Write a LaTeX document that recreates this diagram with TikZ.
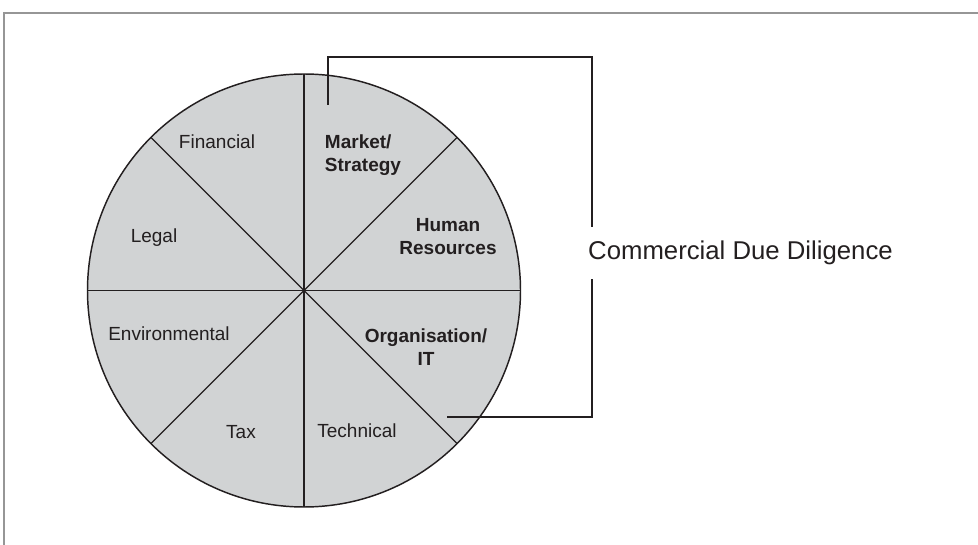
\documentclass[tikz,border=0pt]{standalone}
\usepackage{fontspec}
\setmainfont{Liberation Sans}
\usepackage{tikz}

\definecolor{pieGray}{RGB}{209,211,212}
\definecolor{inkBlack}{RGB}{35,31,32}
\definecolor{frameGray}{RGB}{150,150,150}

\begin{document}
\begin{tikzpicture}[x=0.75pt,y=0.75pt,yscale=-1,xscale=1,
  seclabel/.style={inner sep=0.75pt,text=inkBlack,font=\fontsize{14.25}{17.25}\selectfont},
  secbold/.style={seclabel,font=\fontsize{14.25}{17.25}\selectfont\bfseries},
  bracket/.style={draw=inkBlack,line width=1.1pt}]
\useasboundingbox (0,0) rectangle (978,545);

%Frame
\draw [frameGray,line width=0.8pt]  (4,545) -- (4,13) -- (978,13) ;

%Pie [id:pie]
\node [circle,draw=inkBlack,fill=pieGray,line width=1.1pt,outer sep=0pt,inner sep=0pt,minimum size=324.75pt] (pie) at (304,290.5) {};
%Straight Lines [id:sectors]
\draw [inkBlack,line width=1pt]  (pie.north) -- (pie.south) ;
\draw [inkBlack,line width=1pt]  (pie.west) -- (pie.east) ;
\draw [inkBlack,line width=1pt]  (pie.north west) -- (pie.south east) ;
\draw [inkBlack,line width=1pt]  (pie.north east) -- (pie.south west) ;

% Text Node
\node [seclabel] (fin) at (217,142) {Financial};
% Text Node
\node [seclabel] (legal) at (154,238) {Legal};
% Text Node
\node [seclabel] (env) at (169,334) {Environmental};
% Text Node
\node [seclabel] (tax) at (241,432) {Tax};
% Text Node
\node [seclabel] (tech) at (357,431) {Technical};
% Text Node
\node [secbold,align=left] (mkt) at (363,155.5) {Market/\\Strategy};
% Text Node
\node [secbold,align=center] (hr) at (448,236.5) {Human\\Resources};
% Text Node
\node [secbold,align=center] (org) at (426,347) {Organisation/\\IT};

% Text Node
\node [inner sep=0pt,minimum height=39pt,text=inkBlack,font=\fontsize{19.3}{23}\selectfont] (cdd) at (740.5,253) {Commercial Due Diligence};

%Bracket
\coordinate (brStart) at (328,105);
\coordinate (brTop) at (592,57);
\coordinate (brBot) at (592,417);
\coordinate (brEnd) at (447,417);
\draw [bracket]  (brStart) |- (brTop) -- (brTop |- cdd.north) ;
\draw [bracket]  (brBot |- cdd.south) -- (brBot) -- (brEnd) ;

\end{tikzpicture}
\end{document}
